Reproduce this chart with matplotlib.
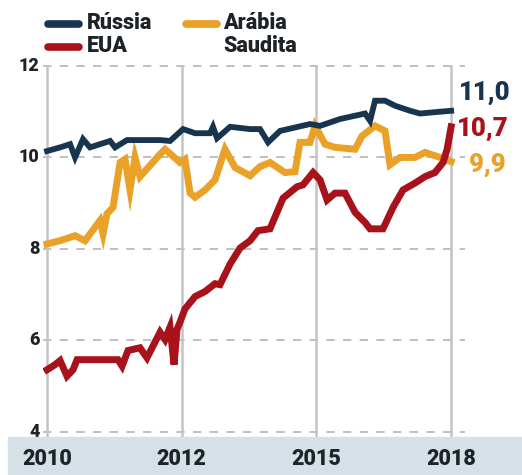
import matplotlib
matplotlib.use("Agg")
import matplotlib.pyplot as plt
from matplotlib.lines import Line2D
from matplotlib.patches import Rectangle

plt.rcParams['font.family'] = ['Roboto', 'DejaVu Sans']

# x in axis units: 0=2010, 1=2012, 2=2015, 3=2018 (evenly spaced in the source)
tick_pos = [0, 1, 2, 3]
tick_labels = ['2010', '2012', '2015', '2018']

russia_x = [0.0, 0.097, 0.171, 0.208, 0.267, 0.319, 0.468, 0.505, 0.594, 0.839, 0.913,
            1.01, 1.099, 1.21, 1.232, 1.262, 1.359, 1.507, 1.581, 1.641, 1.73, 1.952,
            2.027, 2.175, 2.361, 2.398, 2.435, 2.509, 2.584, 2.695, 2.769, 2.918, 3.0]
russia_y = [10.14, 10.22, 10.29, 10.0, 10.4, 10.22, 10.36, 10.22, 10.38, 10.38, 10.36,
            10.62, 10.53, 10.53, 10.67, 10.42, 10.67, 10.62, 10.62, 10.33, 10.58, 10.73,
            10.69, 10.84, 10.96, 10.8, 11.24, 11.24, 11.13, 11.02, 10.96, 11.0, 11.02]

arabia_x = [0.0, 0.097, 0.208, 0.282, 0.393, 0.416, 0.445, 0.49, 0.542, 0.579, 0.616,
            0.653, 0.69, 0.839, 0.876, 0.987, 1.024, 1.062, 1.099, 1.173, 1.247, 1.321,
            1.396, 1.507, 1.581, 1.655, 1.767, 1.841, 1.878, 1.952, 1.99, 2.064, 2.138,
            2.287, 2.339, 2.435, 2.509, 2.546, 2.621, 2.732, 2.806, 2.918, 3.0]
arabia_y = [8.11, 8.18, 8.29, 8.18, 8.62, 8.33, 8.77, 8.91, 9.89, 9.96, 9.29,
            10.0, 9.58, 10.07, 10.18, 9.89, 9.96, 9.22, 9.13, 9.29, 9.51, 10.18,
            9.78, 9.6, 9.8, 9.89, 9.67, 9.69, 10.33, 10.33, 10.69, 10.29, 10.22,
            10.18, 10.47, 10.69, 10.58, 9.84, 10.0, 10.0, 10.11, 10.0, 9.91]

eua_x = [0.0, 0.059, 0.097, 0.148, 0.193, 0.223, 0.527, 0.557, 0.601, 0.69, 0.742,
         0.839, 0.876, 0.913, 0.943, 0.965, 0.987, 1.024, 1.099, 1.173, 1.247, 1.284,
         1.359, 1.433, 1.507, 1.566, 1.655, 1.752, 1.856, 1.9, 1.975, 2.027, 2.079,
         2.138, 2.212, 2.287, 2.361, 2.398, 2.494, 2.569, 2.643, 2.732, 2.806, 2.88,
         2.94, 2.97, 3.0]
eua_y = [5.36, 5.47, 5.56, 5.22, 5.36, 5.58, 5.58, 5.44, 5.78, 5.84, 5.62,
         6.18, 6.02, 6.29, 5.47, 6.24, 6.4, 6.69, 6.96, 7.07, 7.24, 7.22,
         7.67, 8.02, 8.18, 8.4, 8.44, 9.11, 9.36, 9.4, 9.67, 9.51, 9.07,
         9.22, 9.22, 8.8, 8.58, 8.44, 8.44, 8.91, 9.29, 9.44, 9.58, 9.67,
         9.89, 10.18, 10.67]

end_labels = ['11,0', '10,7', '9,9']

navy = '#17354f'
red = '#a8121b'
orange = '#e9a128'
txt = '#1e2328'
WEIGHT = 'heavy'

W, H = 522, 475
fig = plt.figure(figsize=(W / 100, H / 100), dpi=100)

# bottom band
fig.patches.append(Rectangle((8 / W, 0), 1, 38 / H, transform=fig.transFigure,
                             color='#d5e0e7', zorder=0))

ax = fig.add_axes([43 / W, 38 / H, 422 / W, 377 / H])
ax.set_xlim(-0.03, 3.103)
ax.set_ylim(3.89, 12.13)
for s in ax.spines.values():
    s.set_visible(False)
ax.patch.set_alpha(0)

for v in [4, 6, 8, 10, 12]:
    ax.axhline(v, color='#b4b4b4', lw=1.2, ls=(0, (5, 5)), zorder=1)
    ax.text(-0.055, v, str(v), ha='right', va='center', fontsize=13,
            fontweight=WEIGHT, color=txt)
for p in tick_pos:
    ax.axvline(p, ymin=0, ymax=0.985, color='#c4c4c4', lw=1.8, zorder=1)
ax.set_xticks([])
ax.set_yticks([])

ax.plot(arabia_x, arabia_y, color=orange, lw=5, solid_joinstyle='miter', zorder=3)
ax.plot(eua_x, eua_y, color=red, lw=5, solid_joinstyle='miter', zorder=4)
ax.plot(russia_x, russia_y, color=navy, lw=4.2, solid_joinstyle='miter', zorder=5)

# end value labels (pixel positions from the reference)
end_colors = [navy, red, orange]
end_px = [(459, 93), (457, 129), (469, 165)]
for lab, c, (px, py) in zip(end_labels, end_colors, end_px):
    fig.text(px / W, 1 - py / H, lab, ha='left', va='center',
             fontsize=18.5, fontweight=WEIGHT, color=c)

# year labels in the band
for p, lab in zip(tick_pos, tick_labels):
    x_fig = (43 + (p + 0.03) / 3.133 * 422) / W
    fig.text(x_fig, 16 / H, lab, ha='center', va='center', fontsize=15.5,
             fontweight=WEIGHT, color=txt)

# legend
def swatch(x0, x1, y, c):
    fig.lines.append(Line2D([x0 / W, x1 / W], [1 - y / H, 1 - y / H],
                            transform=fig.transFigure, color=c, lw=5.5,
                            solid_capstyle='round'))

swatch(48, 79, 24, navy)
swatch(48, 79, 47, red)
swatch(186, 217, 24, orange)
for x, y, lab in [(87, 23, 'Rússia'), (87, 46, 'EUA'),
                  (223, 23, 'Arábia'), (223, 46, 'Saudita')]:
    fig.text(x / W, 1 - y / H, lab, ha='left', va='center', fontsize=15.5,
             fontweight=WEIGHT, color=txt)

fig.savefig('out.png', dpi=100)
